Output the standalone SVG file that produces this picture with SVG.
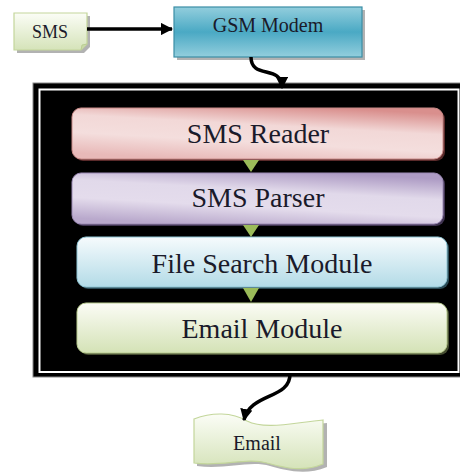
<svg xmlns="http://www.w3.org/2000/svg" width="460" height="473" viewBox="0 0 460 473">
<defs>
<linearGradient id="gGreen" x1="0" y1="0" x2="0" y2="1"><stop offset="0" stop-color="#fbfdf6"/><stop offset="1" stop-color="#d5e3b9"/></linearGradient>
<linearGradient id="gGsm" x1="0" y1="0" x2="0" y2="1"><stop offset="0" stop-color="#93cedd"/><stop offset="0.5" stop-color="#4aa9c4"/><stop offset="1" stop-color="#93cedd"/></linearGradient>
<linearGradient id="gRed" x1="0.3" y1="1" x2="0.7" y2="0"><stop offset="0" stop-color="#e8b9b8"/><stop offset="0.35" stop-color="#f4dedd"/><stop offset="0.65" stop-color="#f2d8d7"/><stop offset="1" stop-color="#d98f8d"/></linearGradient>
<linearGradient id="gPurple" x1="0.3" y1="1" x2="0.7" y2="0"><stop offset="0" stop-color="#b9a9cc"/><stop offset="0.35" stop-color="#e4dcec"/><stop offset="0.65" stop-color="#e1d9ea"/><stop offset="1" stop-color="#ad9bc4"/></linearGradient>
<linearGradient id="gBlue" x1="0" y1="0" x2="0" y2="1"><stop offset="0" stop-color="#f6fbfd"/><stop offset="1" stop-color="#b3dbe7"/></linearGradient>
<linearGradient id="gLime" x1="0" y1="0" x2="0" y2="1"><stop offset="0" stop-color="#fbfcf5"/><stop offset="1" stop-color="#d4e2b6"/></linearGradient>
<marker id="ah" viewBox="0 0 10 10" refX="9" refY="5" markerWidth="3.5" markerHeight="3.5" orient="auto" markerUnits="strokeWidth"><path d="M0,0 L10,5 L0,10 z" fill="#000"/></marker>
</defs>
<style>
.t{font-family:"Liberation Serif","Times New Roman",serif;fill:#1a1a2a;text-anchor:middle}
.mod{stroke-width:1}
.tri{fill:#9bbb59}
.con{fill:none;stroke:#000;stroke-width:3.5}
.shadow{fill:#555;opacity:0.45}
</style>
<rect width="460" height="473" fill="#fff"/>

<g id="frame">
<rect x="33" y="83" width="440" height="294" fill="#000" stroke="#888" stroke-width="1"/>
<rect x="39.5" y="89.5" width="419" height="282.5" fill="none" stroke="#fff" stroke-width="2"/>
</g>

<g id="sms">
<path class="shadow" d="M17,16 H90 V47 L84,53 H17 Z"/>
<path d="M14,13 H87 V44 L81,50 H14 Z" fill="url(#gGreen)" stroke="#c3d69b" stroke-width="1.2"/>
<path d="M81,50 L82,45 L87,44" fill="#c9d9a8" stroke="#b5c98c" stroke-width="0.8"/>
<text class="t" x="50" y="38" font-size="18">SMS</text>
</g>

<g id="gsm">
<rect class="shadow" x="177" y="10" width="188" height="50"/>
<rect x="174" y="7" width="188" height="50" fill="url(#gGsm)" stroke="#3b8ea6" stroke-width="1.2"/>
<text class="t" x="268" y="32" font-size="20">GSM Modem</text>
</g>

<g id="reader">
<rect x="74" y="110" width="371" height="51" rx="9" fill="#5a2a2a"/>
<rect x="72" y="108" width="371" height="51" rx="9" fill="url(#gRed)" stroke="#c98a88" class="mod"/>
<text class="t" x="258" y="143" font-size="28">SMS Reader</text>
</g>

<g id="parser">
<rect x="74" y="175" width="371" height="51" rx="9" fill="#3f3350"/>
<rect x="72" y="173" width="371" height="51" rx="9" fill="url(#gPurple)" stroke="#9c8ab5" class="mod"/>
<text class="t" x="258" y="207" font-size="28">SMS Parser</text>
</g>

<g id="search">
<rect x="79" y="239" width="370" height="50" rx="9" fill="#2a4a55"/>
<rect x="77" y="237" width="370" height="50" rx="9" fill="url(#gBlue)" stroke="#8fc6d6" class="mod"/>
<text class="t" x="262" y="273" font-size="28">File Search Module</text>
</g>

<g id="emailmod">
<rect x="79" y="305" width="370" height="50" rx="9" fill="#454d30"/>
<rect x="77" y="303" width="370" height="50" rx="9" fill="url(#gLime)" stroke="#b9cc8f" class="mod"/>
<text class="t" x="262" y="338" font-size="28">Email Module</text>
</g>

<g id="email">
<path class="shadow" d="M197,422 C215,415 235,415 250,424 C268,433 295,426 327,423 L327,467 C305,476 285,470 270,466 C250,460 225,470 197,466 Z"/>
<path d="M194,419 C212,412 232,412 247,421 C265,430 292,423 323,420 L323,464 C302,473 282,467 267,463 C247,457 222,467 194,463 Z" fill="url(#gGreen)" stroke="#c3d69b" stroke-width="1.2"/>
<text class="t" x="257" y="450" font-size="20">Email</text>
</g>

<g id="connectors">
<line class="con" x1="87" y1="29" x2="172" y2="29" stroke-width="3" marker-end="url(#ah)"/>
<path class="con" d="M251,57 C251,80 282,64 282,88" stroke-width="4" marker-end="url(#ah)"/>
<path class="con" d="M290,373 C291,400 250,392 244,420" stroke-width="4" marker-end="url(#ah)"/>
<polygon class="tri" points="243,160 259,160 251,172"/>
<polygon class="tri" points="243,225 259,225 251,237"/>
<polygon class="tri" points="243,288 259,288 251,302"/>
</g>
</svg>
